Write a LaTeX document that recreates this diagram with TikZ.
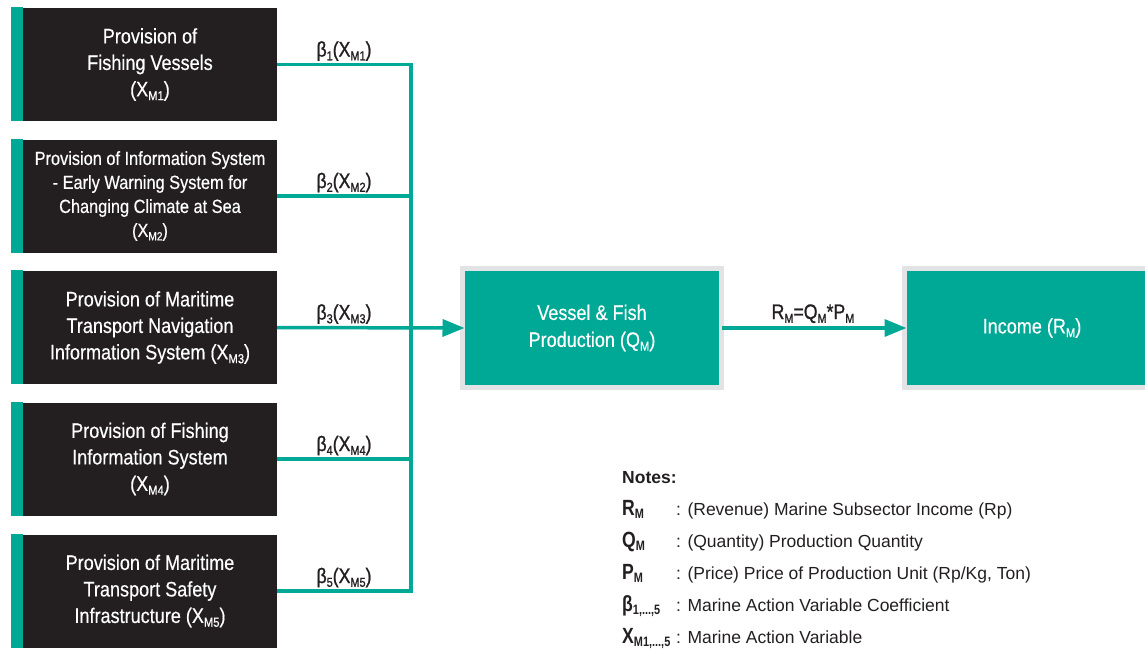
\documentclass[tikz,border=0pt]{standalone}
\usepackage{fontspec}
\setmainfont{Liberation Sans}
\newfontfamily\condfont[FakeStretch=0.86,FakeBold=0.4]{Liberation Sans}
\newfontfamily\lblfont[FakeStretch=0.84,FakeBold=1.1]{Liberation Sans}
\newfontfamily\narrowfont[FakeStretch=0.8]{Liberation Sans}
\usetikzlibrary{arrows.meta}

\definecolor{tealc}{RGB}{0,168,150}
\definecolor{darkc}{RGB}{35,31,32}
\definecolor{rimc}{RGB}{226,227,228}

% small lowered index used in variable names
\newcommand\sbx[1]{\raisebox{-0.18em}{\scalebox{0.62}{#1}}}

\tikzset{
  leftbox/.style={fill=darkc, text=white, minimum width=254pt, minimum height=113pt,
    inner sep=0pt, outer sep=0pt, align=center},
  bigtxt/.style={font=\condfont\fontsize{21}{26.5}\selectfont},
  smalltxt/.style={font=\condfont\fontsize{19}{24}\selectfont},
  mainbox/.style={fill=tealc, draw=rimc, line width=5pt, text=white, inner sep=0pt,
    outer sep=0pt, minimum height=119pt, align=center,
    font=\condfont\fontsize{21}{27}\selectfont},
  conn/.style={draw=tealc, line width=3.5pt},
  tip/.style={-{Triangle[length=22pt,width=17pt]}},
  lbl/.style={anchor=base, inner sep=0pt, text=darkc,
    font=\lblfont\fontsize{21}{22}\selectfont},
  sym/.style={anchor=base west, inner sep=0pt, text=darkc,
    font=\narrowfont\bfseries\fontsize{22}{22}\selectfont},
  desc/.style={anchor=base west, inner sep=0pt, text=darkc,
    font=\fontsize{17.5}{20}\selectfont},
}

\begin{document}
\begin{tikzpicture}[x=1pt,y=-1pt]
\useasboundingbox (0,0) rectangle (1145,648);
\clip (0,0) rectangle (1145,648);

% action variable boxes
\node[leftbox,bigtxt] (b1) at (150,64.5) {Provision of\\Fishing Vessels\\(X\sbx{M1})};
\node[leftbox,smalltxt] (b2) at (150,196) {Provision of Information System\\- Early Warning System for\\Changing Climate at Sea\\(X\sbx{M2})};
\node[leftbox,bigtxt] (b3) at (150,327.5) {Provision of Maritime\\Transport Navigation\\Information System (X\sbx{M3})};
\node[leftbox,bigtxt] (b4) at (150,459) {Provision of Fishing\\Information System\\(X\sbx{M4})};
\node[leftbox,bigtxt] (b5) at (150,591) {Provision of Maritime\\Transport Safety\\Infrastructure (X\sbx{M5})};

% accent strips on the left edge
\foreach \i in {1,...,5}
  \fill[tealc] ([xshift=-12pt]b\i.south west) rectangle ([yshift=1pt]b\i.north west);

% junction column
\coordinate (j) at (411,0);

% result boxes
\node[mainbox, minimum width=259pt] (prod) at (592,328) {Vessel \& Fish\\Production (Q\sbx{M})};
\node[mainbox, minimum width=255pt] (inc) at (1032,328) {Income (R\sbx{M})};

% connectors
\draw[conn] (b1.east) -| (j |- b5.east) -- (b5.east);
\foreach \i in {2,4}
  \draw[conn] (b\i.east) -- (j |- b\i.east);
\draw[conn,tip,shorten >=-2pt] (b3.east) -- (prod.west);
\draw[conn,tip,shorten >=-2pt] (prod.east) -- (inc.west)
  node[lbl, midway, yshift=9pt] {R\sbx{M}=Q\sbx{M}*P\sbx{M}};

% coefficient labels
\foreach \i in {1,...,5}
  \path (b\i.east) -- (j |- b\i.east)
    node[lbl, midway, yshift=8pt] {β\sbx{\i}(X\sbx{M\i})};

% legend
\node[anchor=base west, inner sep=0pt, text=darkc, font=\bfseries\fontsize{17.5}{20}\selectfont]
  (nt) at (622,483) {Notes:};
\node[sym] (s1) at (622,515) {R\sbx{M}};
\node[desc] (d1) at (676,515) {: (Revenue) Marine Subsector Income (Rp)};
\node[sym] (s2) at (622,547) {Q\sbx{M}};
\node[desc] (d2) at (676,547) {: (Quantity) Production Quantity};
\node[sym] (s3) at (622,579) {P\sbx{M}};
\node[desc] (d3) at (676,579) {: (Price) Price of Production Unit (Rp/Kg, Ton)};
\node[sym] (s4) at (622,611) {β\sbx{1,...,5}};
\node[desc] (d4) at (676,611) {: Marine Action Variable Coefficient};
\node[sym] (s5) at (622,643) {X\sbx{M1,...,5}};
\node[desc] (d5) at (676,643) {: Marine Action Variable};
\end{tikzpicture}
\end{document}
